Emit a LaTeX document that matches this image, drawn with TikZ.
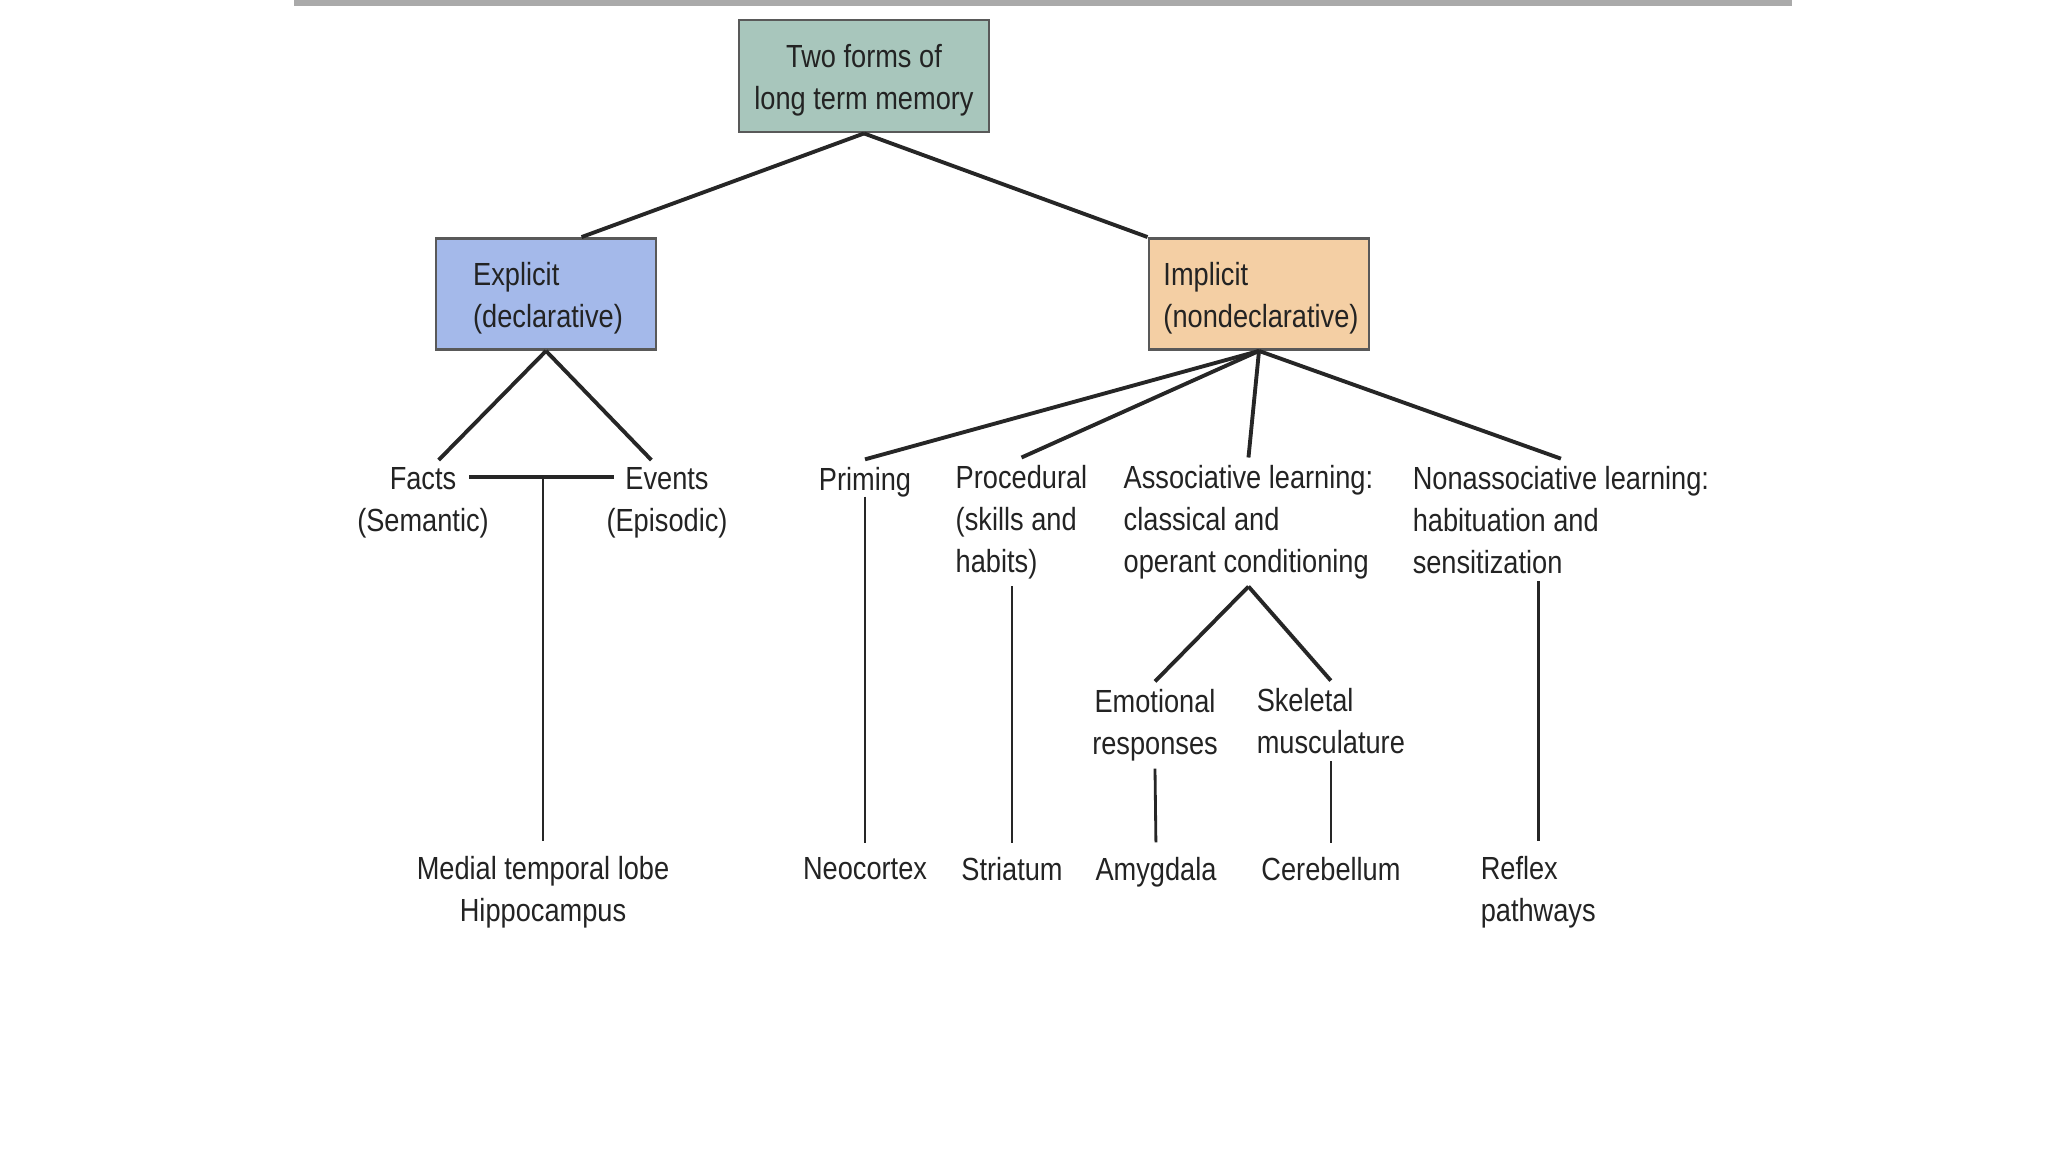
\documentclass[tikz,border=0pt]{standalone}
\usepackage{fontspec}
\setmainfont{Liberation Sans}[FakeStretch=0.85]
\definecolor{rootfill}{RGB}{168,198,188}
\definecolor{explfill}{RGB}{164,185,234}
\definecolor{implfill}{RGB}{244,207,164}
\definecolor{inkgray}{RGB}{35,35,35}
\definecolor{rulegray}{RGB}{170,170,170}

\begin{document}
\begin{tikzpicture}[
        x=0.01cm, y=-0.01cm,
        every node/.style={font=\fontsize{9.1}{11.9}\selectfont, text=inkgray, align=left, inner sep=2pt},
        membox/.style={draw=black!65, line width=0.8pt, minimum width=2.2cm, minimum height=1.11cm},
        link/.style={draw=black!85, line width=1.1pt},
        stem/.style={draw=black!85, line width=0.8pt, shorten >=0.07cm},
    ]
        \useasboundingbox (0,0) rectangle (2048,1152);
        \draw[rulegray, line width=1.5pt] (294,3) -- (1792,3);

        % Define Memory Boxes
        \node[membox, fill=rootfill, align=center, minimum width=2.5cm, minimum height=1.12cm] (root) at (864,76) {};
        \node (roottxt) at (864,80) [align=center] {Two forms of\\long term memory};
        \node[membox, fill=explfill] (expl) at (546,294) {};
        \node (expltxt) at (548,298) {Explicit\\(declarative)};
        \node[membox, fill=implfill] (impl) at (1259,294) {};
        \node (impltxt) at (1261,298) {Implicit\\(nondeclarative)};

        % Define Memory Types
        \node[align=center] (facts) at (423,503) {Facts\\(Semantic)};
        \node[align=center] (events) at (667,503) {Events\\(Episodic)};
        \node (prim) at (865,482) {Priming};
        \node[anchor=west] (proc) at (948,522) {Procedural\\(skills and\\habits)};
        \node[anchor=west] (assoc) at (1116,522) {Associative learning:\\classical and\\operant conditioning};
        \node[anchor=west] (nonassoc) at (1405,520) {Nonassociative learning:\\habituation and\\sensitization};
        \node[align=center] (emo) at (1155,725) {Emotional\\responses};
        \node[anchor=west] (skel) at (1249,721) {Skeletal\\musculature};

        % Define Brain Structures (bottom row)
        \node[align=center] (mtl) at (543,892) {Medial temporal lobe\\Hippocampus};
        \node (neo) at (865,869) {Neocortex};
        \node (stri) at (1012,869) {Striatum};
        \node (amyg) at (1156,872) {Amygdala};
        \node (cereb) at (1331,869) {Cerebellum};
        \node[anchor=west] (reflex) at (1473,892) {Reflex\\pathways};

        \coordinate (factsR) at (469,477);
        \coordinate (eventsL) at (614,477);

        % Draw Edges (Box -> Type)
        \draw[link] (root.south) -- (expl.58);
        \draw[link] (root.south) -- (impl.north west);
        \draw[link] (expl.south) -- (facts.70);
        \draw[link] (expl.south) -- (events.110);
        \draw[link] (impl.south) -- (prim.north);
        \draw[link] (impl.south) -- (proc.north);
        \draw[link] (impl.south) -- (assoc.north);
        \draw[link] (impl.south) -- (nonassoc.north);
        \draw[link] (assoc.south) -- (emo.north);
        \draw[link] (assoc.south) -- (skel.north);

        % Draw Stems (Type -> Structure)
        \draw[link] (factsR) -- (eventsL);
        \draw[stem] (mtl.north |- factsR) -- (mtl.north);
        \draw[stem, shorten <=-0.08cm] (prim.south) -- (neo.north);
        \draw[stem] (stri.north |- proc.south) -- (stri.north);
        \draw[stem] (emo.south) -- (amyg.north);
        \draw[stem] (cereb.north |- skel.south) -- (cereb.north);
        \draw[stem] (reflex.north |- nonassoc.south) -- (reflex.north);
    \end{tikzpicture}
\end{document}
